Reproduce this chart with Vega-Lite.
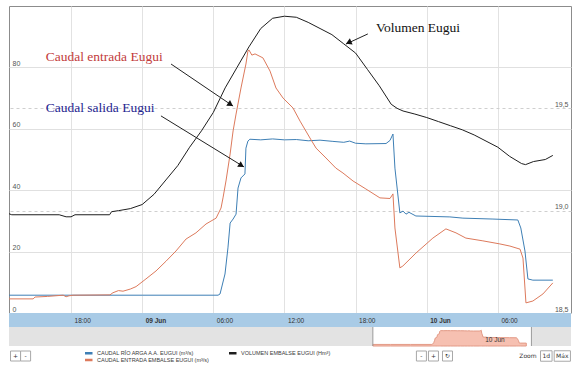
{
  "$schema": "https://vega.github.io/schema/vega-lite/v6.json",
  "padding": {"left": 6, "top": 5, "right": 7, "bottom": 0},
  "autosize": {"type": "pad"},
  "background": "white",
  "spacing": 0,
  "bounds": "flush",
  "config": {"view": {"stroke": null}, "font": "Liberation Sans", "legend": {"rowPadding": 0, "symbolSize": 16}},
  "datasets": {
    "series": [
      {"t": "2013-06-08T12:46", "s": "rio", "v": 5.8},
      {"t": "2013-06-08T18:00", "s": "rio", "v": 5.8},
      {"t": "2013-06-09T00:00", "s": "rio", "v": 5.8},
      {"t": "2013-06-09T06:24", "s": "rio", "v": 5.8},
      {"t": "2013-06-09T06:34", "s": "rio", "v": 6.2},
      {"t": "2013-06-09T06:59", "s": "rio", "v": 12.7},
      {"t": "2013-06-09T07:14", "s": "rio", "v": 21.2},
      {"t": "2013-06-09T07:25", "s": "rio", "v": 29.3},
      {"t": "2013-06-09T07:40", "s": "rio", "v": 30.6},
      {"t": "2013-06-09T07:55", "s": "rio", "v": 32.2},
      {"t": "2013-06-09T08:05", "s": "rio", "v": 40.7},
      {"t": "2013-06-09T08:20", "s": "rio", "v": 44.0},
      {"t": "2013-06-09T08:40", "s": "rio", "v": 45.3},
      {"t": "2013-06-09T08:45", "s": "rio", "v": 53.7},
      {"t": "2013-06-09T08:55", "s": "rio", "v": 56.0},
      {"t": "2013-06-09T09:05", "s": "rio", "v": 56.6},
      {"t": "2013-06-09T10:00", "s": "rio", "v": 56.4},
      {"t": "2013-06-09T11:00", "s": "rio", "v": 56.7},
      {"t": "2013-06-09T12:00", "s": "rio", "v": 56.4},
      {"t": "2013-06-09T13:00", "s": "rio", "v": 56.5},
      {"t": "2013-06-09T14:00", "s": "rio", "v": 56.1},
      {"t": "2013-06-09T15:00", "s": "rio", "v": 56.3},
      {"t": "2013-06-09T16:05", "s": "rio", "v": 55.9},
      {"t": "2013-06-09T17:00", "s": "rio", "v": 55.6},
      {"t": "2013-06-09T17:30", "s": "rio", "v": 56.0},
      {"t": "2013-06-09T18:00", "s": "rio", "v": 55.3},
      {"t": "2013-06-09T18:52", "s": "rio", "v": 55.1},
      {"t": "2013-06-09T20:34", "s": "rio", "v": 55.2},
      {"t": "2013-06-09T20:54", "s": "rio", "v": 56.2},
      {"t": "2013-06-09T21:09", "s": "rio", "v": 58.3},
      {"t": "2013-06-09T21:19", "s": "rio", "v": 47.2},
      {"t": "2013-06-09T21:44", "s": "rio", "v": 32.6},
      {"t": "2013-06-09T22:00", "s": "rio", "v": 33.2},
      {"t": "2013-06-09T22:15", "s": "rio", "v": 32.2},
      {"t": "2013-06-09T22:30", "s": "rio", "v": 32.8},
      {"t": "2013-06-09T23:05", "s": "rio", "v": 31.6},
      {"t": "2013-06-10T01:57", "s": "rio", "v": 31.3},
      {"t": "2013-06-10T03:03", "s": "rio", "v": 30.9},
      {"t": "2013-06-10T05:35", "s": "rio", "v": 30.6},
      {"t": "2013-06-10T07:41", "s": "rio", "v": 30.3},
      {"t": "2013-06-10T07:56", "s": "rio", "v": 27.7},
      {"t": "2013-06-10T08:17", "s": "rio", "v": 20.2},
      {"t": "2013-06-10T08:32", "s": "rio", "v": 11.1},
      {"t": "2013-06-10T08:57", "s": "rio", "v": 10.7},
      {"t": "2013-06-10T10:38", "s": "rio", "v": 10.7},

      {"t": "2013-06-08T12:46", "s": "entrada", "v": 4.6},
      {"t": "2013-06-08T14:48", "s": "entrada", "v": 4.6},
      {"t": "2013-06-08T14:58", "s": "entrada", "v": 5.2},
      {"t": "2013-06-08T16:00", "s": "entrada", "v": 5.4},
      {"t": "2013-06-08T17:20", "s": "entrada", "v": 5.8},
      {"t": "2013-06-08T17:35", "s": "entrada", "v": 5.3},
      {"t": "2013-06-08T17:50", "s": "entrada", "v": 5.6},
      {"t": "2013-06-08T18:10", "s": "entrada", "v": 5.8},
      {"t": "2013-06-08T21:17", "s": "entrada", "v": 5.9},
      {"t": "2013-06-08T21:32", "s": "entrada", "v": 6.6},
      {"t": "2013-06-08T22:00", "s": "entrada", "v": 7.3},
      {"t": "2013-06-08T22:23", "s": "entrada", "v": 7.1},
      {"t": "2013-06-08T23:00", "s": "entrada", "v": 7.8},
      {"t": "2013-06-08T23:29", "s": "entrada", "v": 8.6},
      {"t": "2013-06-09T00:19", "s": "entrada", "v": 11.1},
      {"t": "2013-06-09T01:10", "s": "entrada", "v": 13.7},
      {"t": "2013-06-09T02:01", "s": "entrada", "v": 16.9},
      {"t": "2013-06-09T02:51", "s": "entrada", "v": 20.2},
      {"t": "2013-06-09T03:42", "s": "entrada", "v": 24.1},
      {"t": "2013-06-09T04:32", "s": "entrada", "v": 26.1},
      {"t": "2013-06-09T05:23", "s": "entrada", "v": 29.0},
      {"t": "2013-06-09T06:14", "s": "entrada", "v": 30.9},
      {"t": "2013-06-09T06:39", "s": "entrada", "v": 34.2},
      {"t": "2013-06-09T06:49", "s": "entrada", "v": 37.5},
      {"t": "2013-06-09T07:04", "s": "entrada", "v": 43.0},
      {"t": "2013-06-09T07:25", "s": "entrada", "v": 51.8},
      {"t": "2013-06-09T07:40", "s": "entrada", "v": 59.3},
      {"t": "2013-06-09T07:55", "s": "entrada", "v": 64.8},
      {"t": "2013-06-09T08:20", "s": "entrada", "v": 73.3},
      {"t": "2013-06-09T08:45", "s": "entrada", "v": 81.1},
      {"t": "2013-06-09T08:55", "s": "entrada", "v": 85.3},
      {"t": "2013-06-09T09:00", "s": "entrada", "v": 85.7},
      {"t": "2013-06-09T09:15", "s": "entrada", "v": 84.0},
      {"t": "2013-06-09T09:31", "s": "entrada", "v": 84.4},
      {"t": "2013-06-09T10:11", "s": "entrada", "v": 83.1},
      {"t": "2013-06-09T10:47", "s": "entrada", "v": 78.8},
      {"t": "2013-06-09T11:17", "s": "entrada", "v": 73.3},
      {"t": "2013-06-09T11:53", "s": "entrada", "v": 70.0},
      {"t": "2013-06-09T12:43", "s": "entrada", "v": 66.8},
      {"t": "2013-06-09T13:19", "s": "entrada", "v": 62.5},
      {"t": "2013-06-09T14:09", "s": "entrada", "v": 57.0},
      {"t": "2013-06-09T14:40", "s": "entrada", "v": 53.7},
      {"t": "2013-06-09T15:30", "s": "entrada", "v": 50.5},
      {"t": "2013-06-09T16:20", "s": "entrada", "v": 47.2},
      {"t": "2013-06-09T16:56", "s": "entrada", "v": 45.6},
      {"t": "2013-06-09T17:47", "s": "entrada", "v": 43.0},
      {"t": "2013-06-09T18:52", "s": "entrada", "v": 40.4},
      {"t": "2013-06-09T20:03", "s": "entrada", "v": 37.5},
      {"t": "2013-06-09T20:54", "s": "entrada", "v": 37.3},
      {"t": "2013-06-09T21:09", "s": "entrada", "v": 38.8},
      {"t": "2013-06-09T21:19", "s": "entrada", "v": 27.7},
      {"t": "2013-06-09T21:44", "s": "entrada", "v": 14.7},
      {"t": "2013-06-09T21:59", "s": "entrada", "v": 15.3},
      {"t": "2013-06-09T23:05", "s": "entrada", "v": 19.5},
      {"t": "2013-06-10T00:31", "s": "entrada", "v": 24.4},
      {"t": "2013-06-10T01:37", "s": "entrada", "v": 27.4},
      {"t": "2013-06-10T02:28", "s": "entrada", "v": 26.1},
      {"t": "2013-06-10T03:18", "s": "entrada", "v": 24.4},
      {"t": "2013-06-10T04:44", "s": "entrada", "v": 23.5},
      {"t": "2013-06-10T06:10", "s": "entrada", "v": 22.5},
      {"t": "2013-06-10T07:01", "s": "entrada", "v": 21.8},
      {"t": "2013-06-10T07:52", "s": "entrada", "v": 20.8},
      {"t": "2013-06-10T08:07", "s": "entrada", "v": 17.9},
      {"t": "2013-06-10T08:22", "s": "entrada", "v": 3.3},
      {"t": "2013-06-10T08:57", "s": "entrada", "v": 3.9},
      {"t": "2013-06-10T09:48", "s": "entrada", "v": 6.2},
      {"t": "2013-06-10T10:38", "s": "entrada", "v": 9.8},

      {"t": "2013-06-08T12:46", "s": "volumen", "v": 18.985},
      {"t": "2013-06-08T13:00", "s": "volumen", "v": 18.98},
      {"t": "2013-06-08T17:00", "s": "volumen", "v": 18.98},
      {"t": "2013-06-08T17:35", "s": "volumen", "v": 18.97},
      {"t": "2013-06-08T18:00", "s": "volumen", "v": 18.97},
      {"t": "2013-06-08T18:20", "s": "volumen", "v": 18.98},
      {"t": "2013-06-08T21:15", "s": "volumen", "v": 18.98},
      {"t": "2013-06-08T21:25", "s": "volumen", "v": 18.995},
      {"t": "2013-06-08T22:00", "s": "volumen", "v": 19.0},
      {"t": "2013-06-08T23:00", "s": "volumen", "v": 19.01},
      {"t": "2013-06-09T00:00", "s": "volumen", "v": 19.03},
      {"t": "2013-06-09T01:00", "s": "volumen", "v": 19.08},
      {"t": "2013-06-09T02:00", "s": "volumen", "v": 19.15},
      {"t": "2013-06-09T03:00", "s": "volumen", "v": 19.22},
      {"t": "2013-06-09T04:00", "s": "volumen", "v": 19.31},
      {"t": "2013-06-09T05:00", "s": "volumen", "v": 19.39},
      {"t": "2013-06-09T06:00", "s": "volumen", "v": 19.48},
      {"t": "2013-06-09T07:00", "s": "volumen", "v": 19.6},
      {"t": "2013-06-09T08:00", "s": "volumen", "v": 19.7},
      {"t": "2013-06-09T09:00", "s": "volumen", "v": 19.8},
      {"t": "2013-06-09T10:00", "s": "volumen", "v": 19.89},
      {"t": "2013-06-09T11:00", "s": "volumen", "v": 19.94},
      {"t": "2013-06-09T12:00", "s": "volumen", "v": 19.95},
      {"t": "2013-06-09T13:00", "s": "volumen", "v": 19.945},
      {"t": "2013-06-09T14:00", "s": "volumen", "v": 19.92},
      {"t": "2013-06-09T15:00", "s": "volumen", "v": 19.89},
      {"t": "2013-06-09T16:00", "s": "volumen", "v": 19.86},
      {"t": "2013-06-09T17:00", "s": "volumen", "v": 19.815},
      {"t": "2013-06-09T18:00", "s": "volumen", "v": 19.77},
      {"t": "2013-06-09T19:00", "s": "volumen", "v": 19.69},
      {"t": "2013-06-09T20:00", "s": "volumen", "v": 19.61},
      {"t": "2013-06-09T21:00", "s": "volumen", "v": 19.52},
      {"t": "2013-06-09T21:30", "s": "volumen", "v": 19.5},
      {"t": "2013-06-09T22:00", "s": "volumen", "v": 19.487},
      {"t": "2013-06-09T23:00", "s": "volumen", "v": 19.472},
      {"t": "2013-06-10T00:00", "s": "volumen", "v": 19.455},
      {"t": "2013-06-10T01:00", "s": "volumen", "v": 19.435},
      {"t": "2013-06-10T02:00", "s": "volumen", "v": 19.415},
      {"t": "2013-06-10T03:00", "s": "volumen", "v": 19.395},
      {"t": "2013-06-10T04:00", "s": "volumen", "v": 19.37},
      {"t": "2013-06-10T05:00", "s": "volumen", "v": 19.34},
      {"t": "2013-06-10T06:00", "s": "volumen", "v": 19.31},
      {"t": "2013-06-10T07:00", "s": "volumen", "v": 19.265},
      {"t": "2013-06-10T08:00", "s": "volumen", "v": 19.23},
      {"t": "2013-06-10T08:20", "s": "volumen", "v": 19.225},
      {"t": "2013-06-10T09:00", "s": "volumen", "v": 19.24},
      {"t": "2013-06-10T10:00", "s": "volumen", "v": 19.25},
      {"t": "2013-06-10T10:38", "s": "volumen", "v": 19.27}
    ],
    "buttons": [
      {"t": "2013-06-08T13:19", "label": "+", "kind": "sq"},
      {"t": "2013-06-08T14:10", "label": "-", "kind": "sq"},
      {"t": "2013-06-09T23:33", "label": "-", "kind": "sq"},
      {"t": "2013-06-10T00:34", "label": "+", "kind": "sq"},
      {"t": "2013-06-10T01:45", "label": "↻", "kind": "sq"},
      {"t": "2013-06-10T08:32", "label": "Zoom", "kind": "txt"},
      {"t": "2013-06-10T10:05", "label": "1d", "kind": "d"},
      {"t": "2013-06-10T11:26", "label": "Máx", "kind": "m"}
    ]
  },
  "vconcat": [
    {
      "width": 562,
      "height": 307,
      "view": {"stroke": "#8c8c8c", "strokeWidth": 1},
      "data": {"name": "series"},
      "encoding": {
        "x": {
          "field": "t", "type": "temporal",
          "scale": {"domain": [{"year": 2013, "month": 6, "date": 8, "hours": 12, "minutes": 46}, {"year": 2013, "month": 6, "date": 10, "hours": 12, "minutes": 10}]},
          "axis": {
            "values": [
              {"year": 2013, "month": 6, "date": 8, "hours": 18},
              {"year": 2013, "month": 6, "date": 9, "hours": 0},
              {"year": 2013, "month": 6, "date": 9, "hours": 6},
              {"year": 2013, "month": 6, "date": 9, "hours": 12},
              {"year": 2013, "month": 6, "date": 9, "hours": 18},
              {"year": 2013, "month": 6, "date": 10, "hours": 0},
              {"year": 2013, "month": 6, "date": 10, "hours": 6}
            ],
            "grid": true, "gridColor": "#e2e2e2", "labels": false, "ticks": false, "domain": false, "title": null
          }
        }
      },
      "layer": [
        {
          "encoding": {
            "y": {
              "field": "v", "type": "quantitative",
              "scale": {"domain": [0, 100], "nice": false, "zero": false},
              "axis": {
                "orient": "left", "values": [0, 20, 40, 60, 80], "grid": true, "gridColor": "#e0e0e0",
                "domain": false, "ticks": false, "tickSize": 0, "labelAlign": "left", "labelPadding": -3,
                "labelBaseline": "bottom", "labelOffset": -1, "labelFontSize": 7, "labelColor": "#555", "title": null
              }
            }
          },
          "layer": [
            {
              "transform": [{"filter": "datum.s != 'volumen'"}],
              "mark": {"type": "line", "strokeWidth": 1},
              "encoding": {
                "color": {
                  "field": "s", "type": "nominal",
                  "scale": {"domain": ["rio", "entrada", "volumen"], "range": ["#3e7fb5", "#dd7a5c", "#1e1e1e"]},
                  "legend": {
                    "orient": "none", "legendX": 76, "legendY": 344, "columns": 2, "title": null,
                    "values": ["rio", "entrada", "volumen"],
                    "symbolType": "M-2,0H2", "symbolSize": 16, "symbolStrokeWidth": 2.5,
                    "clipHeight": 6,
                    "labelFontSize": 5.5, "labelFont": "Liberation Sans", "labelColor": "#3a3a3a",
                    "labelOffset": 5, "rowPadding": 0, "columnPadding": 18, "padding": 0,
                    "labelExpr": "datum.label == 'rio' ? 'CAUDAL RÍO ARGA A.A. EUGUI  (m³/s)' : datum.label == 'entrada' ? 'CAUDAL ENTRADA EMBALSE EUGUI  (m³/s)' : 'VOLUMEN EMBALSE EUGUI  (Hm³)'"
                  }
                }
              }
            },
            {
              "data": {"values": [{"label": "Caudal entrada  Eugui", "t": "2013-06-08T15:52", "v": 82.1}]},
              "mark": {"type": "text", "align": "left", "baseline": "alphabetic", "font": "Liberation Serif", "fontSize": 13.5, "color": "#c23b3b"},
              "encoding": {"text": {"field": "label"}}
            },
            {
              "data": {"values": [{"label": "Caudal salida  Eugui", "t": "2013-06-08T15:52", "v": 65.5}]},
              "mark": {"type": "text", "align": "left", "baseline": "alphabetic", "font": "Liberation Serif", "fontSize": 13.5, "color": "#25258f"},
              "encoding": {"text": {"field": "label"}}
            },
            {
              "data": {"values": [{"label": "Volumen Eugui", "t": "2013-06-09T19:43", "v": 91.5}]},
              "mark": {"type": "text", "align": "left", "baseline": "alphabetic", "font": "Liberation Serif", "fontSize": 13.5, "color": "#111111"},
              "encoding": {"text": {"field": "label"}}
            },
            {
              "data": {"values": [
                {"t": "2013-06-09T02:26", "v": 81.1, "t2": "2013-06-09T07:40", "v2": 67.4},
                {"t": "2013-06-09T01:35", "v": 64.2, "t2": "2013-06-09T08:35", "v2": 47.6},
                {"t": "2013-06-09T19:02", "v": 90.9, "t2": "2013-06-09T17:11", "v2": 87.6}
              ]},
              "mark": {"type": "rule", "color": "#222222", "strokeWidth": 1},
              "encoding": {"x2": {"field": "t2"}, "y2": {"field": "v2"}}
            },
            {
              "data": {"values": [{"t": "2013-06-09T07:23", "v": 68.1}]},
              "mark": {"type": "point", "shape": "triangle", "filled": true, "color": "#111111", "opacity": 1, "size": 45, "angle": 124},
              "encoding": {}
            },
            {
              "data": {"values": [{"t": "2013-06-09T08:18", "v": 48.2}]},
              "mark": {"type": "point", "shape": "triangle", "filled": true, "color": "#111111", "opacity": 1, "size": 45, "angle": 122},
              "encoding": {}
            },
            {
              "data": {"values": [{"t": "2013-06-09T17:29", "v": 88.2}]},
              "mark": {"type": "point", "shape": "triangle", "filled": true, "color": "#111111", "opacity": 1, "size": 45, "angle": 246},
              "encoding": {}
            }
          ]
        },
        {
          "transform": [{"filter": "datum.s == 'volumen'"}],
          "mark": {"type": "line", "strokeWidth": 1},
          "encoding": {
            "y": {
              "field": "v", "type": "quantitative",
              "scale": {"domain": [18.5, 20], "nice": false, "zero": false},
              "axis": {
                "orient": "right", "values": [18.5, 19, 19.5], "grid": true, "gridDash": [3, 3], "gridColor": "#cfcfcf",
                "domain": false, "ticks": false, "tickSize": 0, "labelAlign": "right", "labelPadding": -3,
                "labelBaseline": "bottom", "labelOffset": -1, "labelFontSize": 7, "labelColor": "#555", "title": null,
                "labelExpr": "replace(format(datum.value, '.1f'), '.', ',')"
              }
            },
            "color": {"field": "s", "type": "nominal", "legend": null}
          }
        }
      ],
      "resolve": {"scale": {"y": "independent"}}
    },
    {
      "width": 562,
      "height": 14,
      "data": {"values": [{"a": "2013-06-08T12:46", "b": "2013-06-10T12:10"}]},
      "mark": {"type": "rect", "fill": "#a9cbe6"},
      "encoding": {
        "x": {
          "field": "a", "type": "temporal",
          "scale": {"domain": [{"year": 2013, "month": 6, "date": 8, "hours": 12, "minutes": 46}, {"year": 2013, "month": 6, "date": 10, "hours": 12, "minutes": 10}]},
          "axis": {
            "orient": "top", "zindex": 2,
            "values": [
              {"year": 2013, "month": 6, "date": 8, "hours": 18},
              {"year": 2013, "month": 6, "date": 9, "hours": 0},
              {"year": 2013, "month": 6, "date": 9, "hours": 6},
              {"year": 2013, "month": 6, "date": 9, "hours": 12},
              {"year": 2013, "month": 6, "date": 9, "hours": 18},
              {"year": 2013, "month": 6, "date": 10, "hours": 0},
              {"year": 2013, "month": 6, "date": 10, "hours": 6}
            ],
            "labelExpr": "hours(datum.value) == 0 ? timeFormat(datum.value, '%d %b') : timeFormat(datum.value, '%H:%M')",
            "labelFontWeight": {"condition": {"test": "hours(datum.value) == 0", "value": "bold"}, "value": "normal"},
            "labelAlign": "left", "labelOffset": 3, "labelBaseline": "middle", "labelPadding": -7,
            "labelFlush": false, "labelOverlap": false, "labelBound": false,
            "ticks": false, "tickSize": 0, "domain": false, "grid": false,
            "labelFontSize": 6.5, "labelColor": "#333", "title": null
          }
        },
        "x2": {"field": "b"}
      }
    },
    {
      "width": 562,
      "height": 19,
      "encoding": {
        "x": {
          "field": "t", "type": "temporal",
          "scale": {"domain": [{"year": 2013, "month": 6, "date": 4}, {"year": 2013, "month": 6, "date": 11}]},
          "axis": {
            "orient": "top", "zindex": 2, "values": [{"year": 2013, "month": 6, "date": 10}],
            "labelExpr": "timeFormat(datum.value, '%d %b')",
            "labelAlign": "left", "labelOffset": -6, "labelBaseline": "middle", "labelPadding": -12,
            "labelFlush": false, "labelOverlap": false, "labelBound": false,
            "ticks": false, "tickSize": 0, "domain": false, "grid": false,
            "labelFontSize": 6.5, "labelColor": "#333", "title": null
          }
        }
      },
      "layer": [
        {
          "data": {"values": [
            {"t": "2013-06-04T00:00", "t2": "2013-06-08T12:46"},
            {"t": "2013-06-10T12:10", "t2": "2013-06-11T00:00"}
          ]},
          "mark": {"type": "rect", "fill": "#e3e3e3", "opacity": 1},
          "encoding": {"x2": {"field": "t2"}}
        },
        {
          "data": {"name": "series"},
          "transform": [{"filter": "datum.s == 'rio'"}],
          "mark": {"type": "area", "fill": "#f6c0b1", "stroke": "#e39a86", "strokeWidth": 1, "opacity": 1},
          "encoding": {
            "y": {"field": "v", "type": "quantitative", "scale": {"domain": [0, 70], "nice": false}, "axis": null}
          }
        },
        {
          "data": {"values": [{"t": "2013-06-08T12:46"}, {"t": "2013-06-10T12:10"}]},
          "mark": {"type": "rule", "color": "#9a9a9a", "strokeWidth": 1},
          "encoding": {}
        }
      ]
    },
    {
      "width": 562,
      "height": 20,
      "data": {"name": "buttons"},
      "encoding": {
        "x": {
          "field": "t", "type": "temporal",
          "scale": {"domain": [{"year": 2013, "month": 6, "date": 8, "hours": 12, "minutes": 46}, {"year": 2013, "month": 6, "date": 10, "hours": 12, "minutes": 10}]},
          "axis": null
        }
      },
      "layer": [
        {
          "transform": [{"filter": "datum.kind == 'sq'"}],
          "mark": {"type": "point", "shape": "square", "size": 100, "filled": true, "fill": "#ffffff", "stroke": "#a8a8a8", "strokeWidth": 1, "opacity": 1}
        },
        {
          "transform": [{"filter": "datum.kind == 'd'"}],
          "mark": {"type": "point", "shape": "M-1.1,-1H1.1V1H-1.1Z", "size": 110, "filled": true, "fill": "#ffffff", "stroke": "#a8a8a8", "strokeWidth": 1, "opacity": 1}
        },
        {
          "transform": [{"filter": "datum.kind == 'm'"}],
          "mark": {"type": "point", "shape": "M-1.55,-1H1.55V1H-1.55Z", "size": 110, "filled": true, "fill": "#ffffff", "stroke": "#a8a8a8", "strokeWidth": 1, "opacity": 1}
        },
        {
          "mark": {"type": "text", "fontSize": 6, "color": "#333333", "baseline": "middle", "align": "center", "font": "DejaVu Sans"},
          "encoding": {"text": {"field": "label"}}
        }
      ]
    }
  ]
}
